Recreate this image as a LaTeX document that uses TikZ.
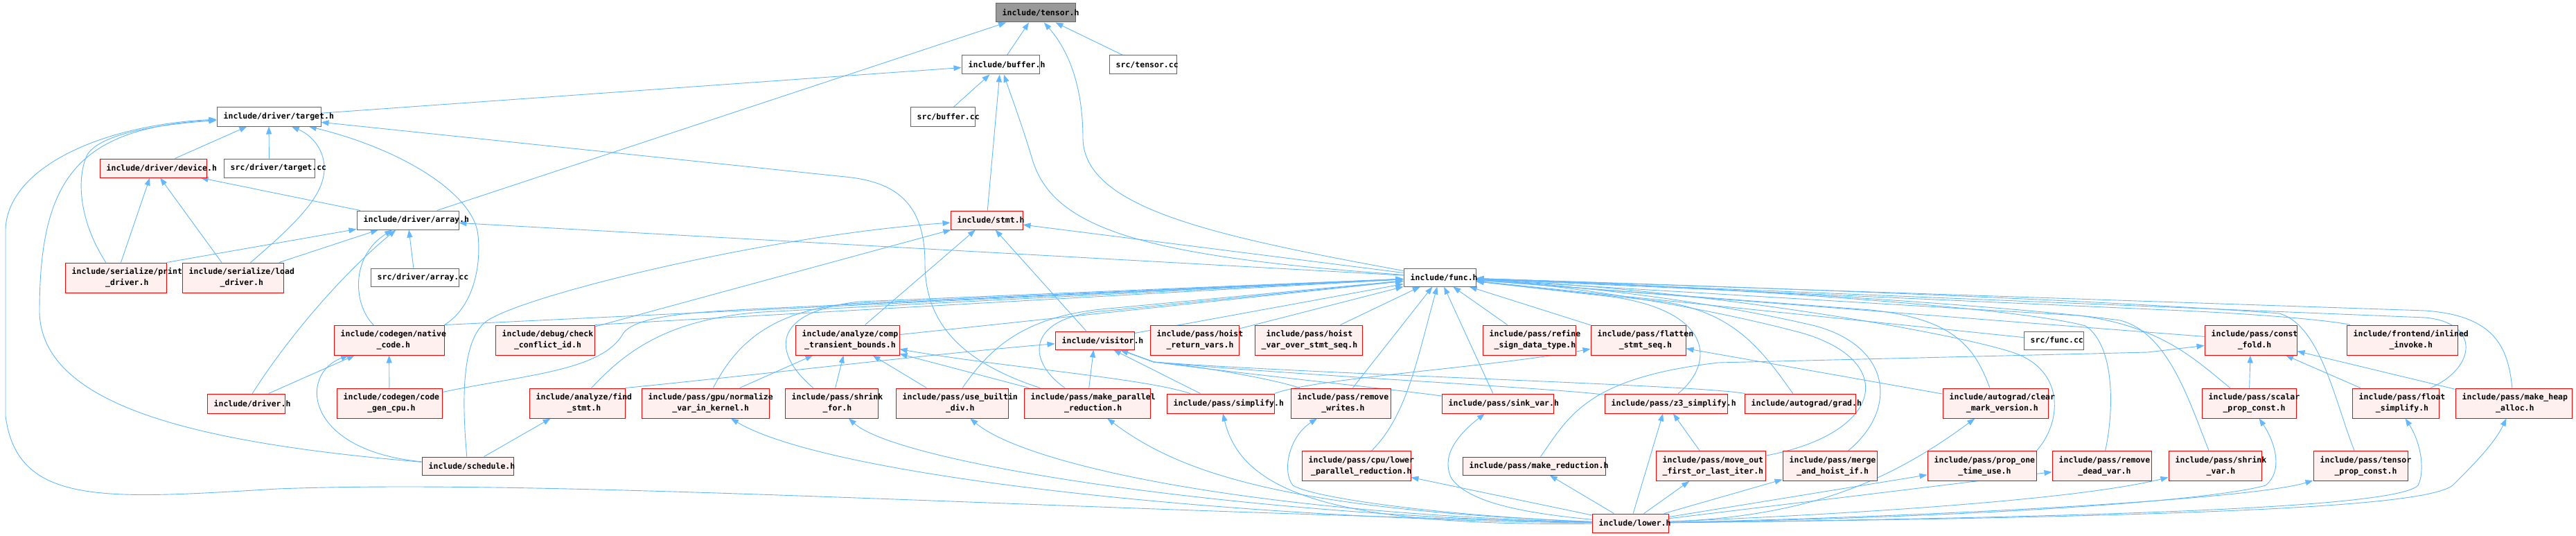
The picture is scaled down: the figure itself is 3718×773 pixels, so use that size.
\documentclass[tikz,border=0pt]{standalone}
\usepackage{fontspec}
\setmonofont{DejaVu Sans Mono}
\usetikzlibrary{arrows.meta,backgrounds}
\definecolor{eb}{HTML}{63B8FF}
\definecolor{rf}{HTML}{FFF0F0}
\definecolor{rb}{HTML}{FF0000}
\definecolor{gb}{HTML}{666666}
\definecolor{tf}{HTML}{999999}
\newcommand{\lblfont}{\ttfamily\bfseries\fontsize{11.5}{16}\selectfont}
\tikzset{
  box/.style={draw=gb, fill=white, line width=1pt, inner sep=0pt},
  rbox/.style={draw=rb, fill=rf, line width=1pt, inner sep=0pt},
  root/.style={draw=gb, fill=tf, line width=1pt, inner sep=0pt},
  lbl/.style={font=\lblfont, align=center, inner sep=0pt, text=black},
  inc/.style={draw=eb, line width=0.9pt, -{Triangle[length=11pt,width=8pt]}}
}
\newcommand{\mkbox}[7]{%
  \node[#6, minimum width=#4pt, minimum height=#5pt] (#1) at (#2,#3) {};
  \node[lbl, anchor=west] (#1-t) at ([xshift=10pt]#1.west) {#7};}
\begin{document}
\begin{tikzpicture}[x=1pt,y=-1pt]
\useasboundingbox (0,0) rectangle (3718,773);
% rank 0-4
\mkbox{tensor}{1494.5}{18.5}{115}{27}{root}{include/tensor.h}
\mkbox{buffer}{1444}{93.5}{112}{27}{box}{include/buffer.h}
\mkbox{tensorcc}{1649.5}{93.5}{97}{27}{box}{src/tensor.cc}
\mkbox{target}{388}{168.5}{150}{27}{box}{include/driver/target.h}
\mkbox{buffercc}{1360.5}{168.5}{93}{27}{box}{src/buffer.cc}
\mkbox{device}{221}{242.5}{154}{27}{rbox}{include/driver/device.h}
\mkbox{targetcc}{388.5}{242.5}{131}{27}{box}{src/driver/target.cc}
\mkbox{array}{588.5}{317.5}{147}{27}{box}{include/driver/array.h}
\mkbox{stmt}{1424}{317.5}{104}{27}{rbox}{include/stmt.h}
% rank 5
\mkbox{print}{167}{400.5}{146}{43}{rbox}{include/serialize/print\\\_driver.h}
\mkbox{load}{336}{400.5}{146}{43}{rbox}{include/serialize/load\\\_driver.h}
\mkbox{arraycc}{598.5}{400}{127}{26}{box}{src/driver/array.cc}
\mkbox{func}{2078}{400}{104}{26}{box}{include/func.h}
% rank 6
\mkbox{native}{561.5}{490.5}{159}{43}{rbox}{include/codegen/native\\\_code.h}
\mkbox{check}{786.5}{490.5}{143}{43}{rbox}{include/debug/check\\\_conflict\_id.h}
\mkbox{comp}{1223}{490.5}{150}{43}{rbox}{include/analyze/comp\\\_transient\_bounds.h}
\mkbox{visitor}{1580}{491}{114}{26}{rbox}{include/visitor.h}
\mkbox{hoistret}{1724}{490.5}{128}{43}{rbox}{include/pass/hoist\\\_return\_vars.h}
\mkbox{hoistvar}{1888.5}{490.5}{155}{43}{rbox}{include/pass/hoist\\\_var\_over\_stmt\_seq.h}
\mkbox{refine}{2207}{490.5}{134}{43}{rbox}{include/pass/refine\\\_sign\_data\_type.h}
\mkbox{flatten}{2364.5}{490.5}{137}{43}{rbox}{include/pass/flatten\\\_stmt\_seq.h}
\mkbox{funccc}{2964}{491}{86}{26}{box}{src/func.cc}
\mkbox{constfold}{3248.5}{490.5}{133}{43}{rbox}{include/pass/const\\\_fold.h}
\mkbox{inlined}{3467}{490.5}{160}{43}{rbox}{include/frontend/inlined\\\_invoke.h}
% rank 7
\mkbox{driver}{355}{582}{112}{28}{rbox}{include/driver.h}
\mkbox{codegencpu}{562}{581.5}{152}{43}{rbox}{include/codegen/code\\\_gen\_cpu.h}
\mkbox{findstmt}{833}{581.5}{138}{43}{rbox}{include/analyze/find\\\_stmt.h}
\mkbox{normalize}{1018}{581.5}{184}{43}{rbox}{include/pass/gpu/normalize\\\_var\_in\_kernel.h}
\mkbox{shrinkfor}{1200}{581.5}{134}{43}{rbox}{include/pass/shrink\\\_for.h}
\mkbox{usebuiltin}{1374}{581.5}{162}{43}{rbox}{include/pass/use\_builtin\\\_div.h}
\mkbox{makepar}{1569}{581.5}{182}{43}{rbox}{include/pass/make\_parallel\\\_reduction.h}
\mkbox{simplify}{1761.5}{582}{155}{28}{rbox}{include/pass/simplify.h}
\mkbox{removewrites}{1935}{581.5}{144}{43}{rbox}{include/pass/remove\\\_writes.h}
\mkbox{sinkvar}{2161.5}{582}{161}{28}{rbox}{include/pass/sink\_var.h}
\mkbox{z3}{2404.5}{582}{177}{28}{rbox}{include/pass/z3\_simplify.h}
\mkbox{grad}{2598}{582}{160}{28}{rbox}{include/autograd/grad.h}
\mkbox{clearmark}{2880}{581.5}{152}{43}{rbox}{include/autograd/clear\\\_mark\_version.h}
\mkbox{scalarprop}{3246}{581.5}{136}{43}{rbox}{include/pass/scalar\\\_prop\_const.h}
\mkbox{floatsimp}{3457.5}{581.5}{125}{43}{rbox}{include/pass/float\\\_simplify.h}
\mkbox{makeheap}{3628}{581.5}{168}{43}{rbox}{include/pass/make\_heap\\\_alloc.h}
% rank 8
\mkbox{schedule}{675}{672}{132}{26}{rbox}{include/schedule.h}
\mkbox{lowerpar}{1957.5}{672}{157}{43}{rbox}{include/pass/cpu/lower\\\_parallel\_reduction.h}
\mkbox{makered}{2214}{672}{206}{26}{rbox}{include/pass/make\_reduction.h}
\mkbox{moveout}{2469}{672}{158}{43}{rbox}{include/pass/move\_out\\\_first\_or\_last\_iter.h}
\mkbox{merge}{2641}{672}{136}{43}{rbox}{include/pass/merge\\\_and\_hoist\_if.h}
\mkbox{propone}{2860.5}{672}{157}{43}{rbox}{include/pass/prop\_one\\\_time\_use.h}
\mkbox{removedead}{3033.5}{672}{143}{43}{rbox}{include/pass/remove\\\_dead\_var.h}
\mkbox{shrinkvar}{3197}{672}{134}{43}{rbox}{include/pass/shrink\\\_var.h}
\mkbox{tensorprop}{3407}{672}{136}{43}{rbox}{include/pass/tensor\\\_prop\_const.h}
% rank 9
\mkbox{lower}{2353}{754.5}{110}{27}{rbox}{include/lower.h}

\begin{pgfonlayer}{background}
% tensor.h
\draw[inc] (buffer) -- (tensor);
\draw[inc] (tensorcc) -- (tensor);
\draw[inc] (array) -- (tensor);
\draw[inc] (func) .. controls (1750,340) and (1565,300) .. (1563,200) .. controls (1563,120) and (1540,70) .. (tensor);
% buffer.h
\draw[inc] (buffercc) -- (buffer);
\draw[inc] (stmt) -- (buffer);
\draw[inc] (target) -- (buffer);
\draw[inc] (func) .. controls (1650,370) and (1520,330) .. (1490,230) .. controls (1475,180) and (1460,140) .. (buffer);
% target.h
\draw[inc] (device) -- (target);
\draw[inc] (targetcc) -- (target);
\draw[inc] (print) .. controls (115,320) and (110,260) .. (125,225) .. controls (140,195) and (220,180) .. (target);
\draw[inc] (load) .. controls (430,320) and (470,280) .. (468,240) .. controls (467,215) and (450,195) .. (target);
\draw[inc] (schedule) .. controls (300,640) and (60,590) .. (57,450) .. controls (57,260) and (110,185) .. (target);
\draw[inc] (lower) .. controls (1500,735) and (800,690) .. (400,705) .. controls (150,720) and (25,730) .. (8,600) -- (8,330) .. controls (12,240) and (150,180) .. (target);
\draw[inc] (native.north east) .. controls (680,445) and (695,390) .. (690,340) .. controls (685,280) and (580,215) .. (target);
\draw[inc] (makepar) .. controls (1380,520) and (1335,460) .. (1335,380) .. controls (1335,290) and (1290,262) .. (1220,255) -- (target);
% device.h
\draw[inc] (array) -- (device);
\draw[inc] (print) -- (device);
\draw[inc] (load) -- (device);
% array.h
\draw[inc] (print.north east) -- (array);
\draw[inc] (load) -- (array);
\draw[inc] (driver) .. controls (420,480) and (500,390) .. (array);
\draw[inc] (native) .. controls (510,440) and (505,370) .. (array);
\draw[inc] (arraycc) -- (array);
\draw[inc] (func) -- (array);
% stmt.h
\draw[inc] (func) -- (stmt);
\draw[inc] (schedule) .. controls (665,560) and (670,490) .. (700,465) .. controls (740,430) and (1100,340) .. (stmt);
\draw[inc] (check) -- (stmt);
\draw[inc] (comp) -- (stmt);
\draw[inc] (visitor) -- (stmt);
% native_code.h
\draw[inc] (driver) -- (native);
\draw[inc] (codegencpu) -- (native);
\draw[inc] (schedule) .. controls (440,650) and (430,540) .. (native);
% find_stmt.h
\draw[inc] (schedule) -- (findstmt);
% func.h from the left
\draw[inc] (native.north east) -- (func);
\draw[inc] (check.north east) -- (func);
\draw[inc] (codegencpu) .. controls (760,540) and (870,535) .. (900,480) .. controls (920,455) and (1000,450) .. (1100,445) -- (func);
\draw[inc] (findstmt) .. controls (900,510) and (960,460) .. (1100,450) -- (func);
\draw[inc] (normalize) .. controls (1060,500) and (1110,445) .. (1240,437) -- (func);
\draw[inc] (shrinkfor) .. controls (1115,510) and (1110,450) .. (1240,435) -- (func);
\draw[inc] (comp) -- (func);
\draw[inc] (usebuiltin) .. controls (1430,500) and (1480,455) .. (1600,445) -- (func);
\draw[inc] (makepar) .. controls (1480,520) and (1480,455) .. (1600,448) -- (func);
\draw[inc] (visitor) -- (func);
\draw[inc] (hoistret) -- (func);
\draw[inc] (hoistvar) -- (func);
\draw[inc] (removewrites) -- (func);
\draw[inc] (lowerpar) .. controls (2030,600) and (2045,520) .. (func);
\draw[inc] (sinkvar) -- (func);
\draw[inc] (refine) -- (func);
\draw[inc] (flatten) -- (func);
% func.h from the right
\draw[inc] (z3) .. controls (2480,520) and (2470,440) .. (2300,425) -- (func);
\draw[inc] (grad) .. controls (2540,500) and (2500,450) .. (2400,435) -- (func);
\draw[inc] (moveout) .. controls (2720,625) and (2740,520) .. (2600,480) .. controls (2450,440) and (2250,410) .. (func);
\draw[inc] (merge) .. controls (2740,590) and (2730,500) .. (2620,470) .. controls (2450,430) and (2250,410) .. (func);
\draw[inc] (clearmark) .. controls (2850,500) and (2820,460) .. (2700,447) -- (func);
\draw[inc] (funccc) -- (func);
\draw[inc] (propone.north east) .. controls (2975,610) and (2980,540) .. (2915,512) .. controls (2860,488) and (2500,420) .. (func);
\draw[inc] (removedead) .. controls (3050,600) and (3055,500) .. (3010,470) .. controls (2900,440) and (2400,410) .. (func);
\draw[inc] (shrinkvar) .. controls (3160,580) and (3130,480) .. (3060,462) .. controls (2900,440) and (2400,410) .. (func);
\draw[inc] (tensorprop) .. controls (3370,580) and (3350,470) .. (3290,452) .. controls (3000,430) and (2400,410) .. (func);
\draw[inc] (scalarprop) .. controls (3170,520) and (3120,470) .. (3000,455) -- (func);
\draw[inc] (constfold) -- (func);
\draw[inc] (inlined) .. controls (3380,465) and (3300,455) .. (3150,448) -- (func);
\draw[inc] (floatsimp) .. controls (3575,530) and (3580,465) .. (3500,458) -- (func);
\draw[inc] (makeheap) .. controls (3620,500) and (3600,455) .. (3500,448) -- (func);
% lower.h
\draw[inc] (lower) .. controls (1800,750) and (1200,690) .. (normalize);
\draw[inc] (lower) .. controls (1800,745) and (1300,670) .. (shrinkfor);
\draw[inc] (lower) .. controls (1800,740) and (1480,670) .. (usebuiltin);
\draw[inc] (lower) .. controls (1850,735) and (1700,680) .. (makepar);
\draw[inc] (lower) .. controls (1900,760) and (1790,700) .. (simplify);
\draw[inc] (lower) .. controls (2100,745) and (1900,720) .. (1866,700) .. controls (1850,680) and (1860,630) .. (removewrites);
\draw[inc] (lower) .. controls (2200,740) and (2120,725) .. (2095,690) .. controls (2080,660) and (2100,630) .. (sinkvar);
\draw[inc] (lower) -- (lowerpar);
\draw[inc] (lower) -- (makered);
\draw[inc] (lower) -- (z3);
\draw[inc] (lower) -- (moveout);
\draw[inc] (lower) -- (merge);
\draw[inc] (lower) .. controls (2600,745) and (2720,700) .. (clearmark);
\draw[inc] (lower) -- (propone);
\draw[inc] (lower) -- (removedead);
\draw[inc] (lower) .. controls (2700,740) and (3000,720) .. (shrinkvar);
\draw[inc] (lower) .. controls (2800,745) and (3250,720) .. (tensorprop);
\draw[inc] (lower) .. controls (2900,745) and (3200,720) .. (3270,700) .. controls (3295,680) and (3285,640) .. (scalarprop);
\draw[inc] (lower) .. controls (3100,745) and (3460,730) .. (3490,700) .. controls (3500,680) and (3495,640) .. (floatsimp);
\draw[inc] (lower) .. controls (3200,745) and (3500,730) .. (3540,700) .. controls (3570,670) and (3600,640) .. (makeheap);
% visitor.h
\draw[inc] (findstmt.north east) .. controls (1100,540) and (1350,510) .. (visitor);
\draw[inc] (makepar) -- (visitor);
\draw[inc] (simplify) -- (visitor);
\draw[inc] (removewrites) .. controls (1850,550) and (1750,530) .. (1665,522) -- (visitor);
\draw[inc] (sinkvar) .. controls (2000,560) and (1800,540) .. (1665,522) -- (visitor);
\draw[inc] (z3) .. controls (2250,560) and (1850,540) .. (1665,522) -- (visitor);
\draw[inc] (grad) .. controls (2450,555) and (1900,540) .. (1665,522) -- (visitor);
% comp_transient_bounds.h
\draw[inc] (normalize) -- (comp);
\draw[inc] (shrinkfor) -- (comp);
\draw[inc] (usebuiltin) -- (comp);
\draw[inc] (makepar) -- (comp);
\draw[inc] (simplify) .. controls (1650,545) and (1450,530) .. (comp);
% const_fold.h
\draw[inc] (scalarprop) -- (constfold);
\draw[inc] (floatsimp) -- (constfold);
\draw[inc] (makeheap) -- (constfold);
\draw[inc] (makered) .. controls (2265,600) and (2290,545) .. (2480,523) -- (3100,508) -- (constfold);
% flatten_stmt_seq.h
\draw[inc] (clearmark) -- (flatten);
\draw[inc] (simplify.north east) .. controls (1900,545) and (2150,530) .. (flatten);
% z3_simplify.h
\draw[inc] (moveout) -- (z3);
\end{pgfonlayer}
\end{tikzpicture}
\end{document}
